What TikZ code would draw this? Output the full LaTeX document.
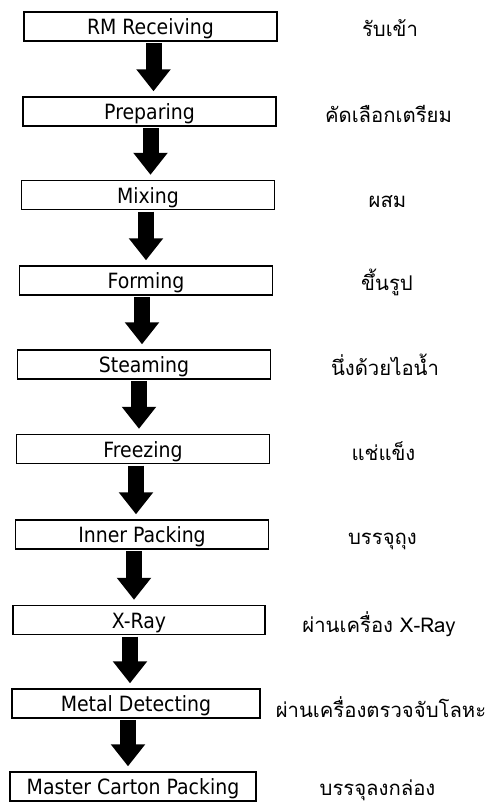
\documentclass[tikz,border=0pt]{standalone}
\usepackage{fontspec}
\newfontfamily\boxfont{DejaVu Sans Condensed}
\newfontfamily\thaifont[Script=Thai]{Loma}
\usetikzlibrary{arrows.meta}

\begin{document}
\begin{tikzpicture}[x=1pt, y=-1pt,
    boxStyle/.style={rectangle, draw, line width=1.4pt, minimum width=253pt, minimum height=29pt, inner sep=0pt, text height=20pt, text depth=4pt, font=\boxfont\fontsize{21}{23}\selectfont},
    labelStyle/.style={inner sep=0pt, anchor=base, font=\thaifont\fontsize{20.3}{22}\selectfont},
    arrowStyle/.style={line width=16pt, -{Triangle[width=33pt, length=22pt]}, shorten <=1.5pt, shorten >=5pt}]
                    \useasboundingbox (0, 0) rectangle (488, 804);

                    \node[boxStyle] (box_0) at (150.5,  26.5) {RM Receiving};
                    \node[boxStyle] (box_1) at (149.5, 111.5) {Preparing};
                    \node[boxStyle] (box_2) at (148,   195)   {Mixing};
                    \node[boxStyle] (box_3) at (146,   280.5) {Forming};
                    \node[boxStyle] (box_4) at (144,   364.5) {Steaming};
                    \node[boxStyle] (box_5) at (143,   449)   {Freezing};
                    \node[boxStyle] (box_6) at (142,   534.5) {Inner Packing};
                    \node[boxStyle, minimum width=252pt] (box_7) at (139, 620)   {X-Ray};
                    \node[boxStyle, minimum width=248pt] (box_8) at (136, 703.5) {Metal Detecting};
                    \node[boxStyle, minimum width=246pt] (box_9) at (133, 786.5) {Master Carton Packing};

                    \node[labelStyle] (lbl_0) at (390,   36) {รับเข้า};
                    \node[labelStyle] (lbl_1) at (388.5, 122) {คัดเลือกเตรียม};
                    \node[labelStyle] (lbl_2) at (387.5, 207) {ผสม};
                    \node[labelStyle] (lbl_3) at (387,  290) {ขึ้นรูป};
                    \node[labelStyle] (lbl_4) at (385,  375) {นึ่งด้วยไอน้ำ};
                    \node[labelStyle] (lbl_5) at (383.5, 460) {แช่แข็ง};
                    \node[labelStyle] (lbl_6) at (382.5, 544) {บรรจุถุง};
                    \node[labelStyle] (lbl_7) at (379,  632) {ผ่านเครื่อง X-Ray};
                    \node[labelStyle] (lbl_8) at (381,  717) {ผ่านเครื่องตรวจจับโลหะ};
                    \node[labelStyle] (lbl_9) at (377.5, 795) {บรรจุลงกล่อง};

                    \draw[arrowStyle] ([xshift=3]box_0.south)  -- ([xshift=3]box_0.south |- box_1.north);
                    \draw[arrowStyle] ([xshift=1]box_1.south)  -- ([xshift=1]box_1.south |- box_2.north);
                    \draw[arrowStyle] ([xshift=-2]box_2.south) -- ([xshift=-2]box_2.south |- box_3.north);
                    \draw[arrowStyle] ([xshift=-4]box_3.south) -- ([xshift=-4]box_3.south |- box_4.north);
                    \draw[arrowStyle] ([xshift=-5]box_4.south) -- ([xshift=-5]box_4.south |- box_5.north);
                    \draw[arrowStyle] ([xshift=-7]box_5.south) -- ([xshift=-7]box_5.south |- box_6.north);
                    \draw[arrowStyle] ([xshift=-8]box_6.south) -- ([xshift=-8]box_6.south |- box_7.north);
                    \draw[arrowStyle] ([xshift=-9]box_7.south) -- ([xshift=-9]box_7.south |- box_8.north);
                    \draw[arrowStyle] ([xshift=-8]box_8.south) -- ([xshift=-8]box_8.south |- box_9.north);
                \end{tikzpicture}
\end{document}
